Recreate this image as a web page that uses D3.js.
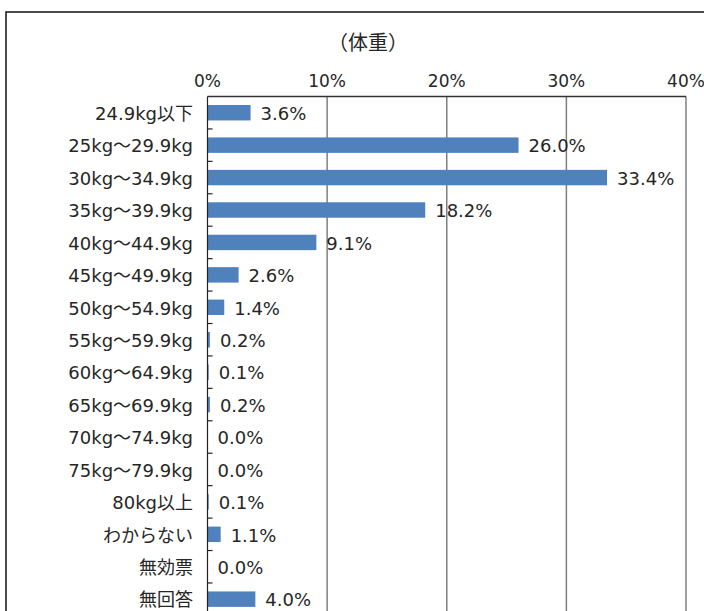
<!DOCTYPE html>
<html>
<head>
<meta charset="utf-8">
<script src="https://cdn.jsdelivr.net/npm/d3@7"></script>
<style>
body { margin: 0; background: #fff; }
svg { display: block; }
text { font-family: "DejaVu Sans", "Noto Sans CJK JP", sans-serif; fill: #262626; }
</style>
</head>
<body>
<div id="chart"></div>
<script>
var categories = ["24.9kg以下", "25kg～29.9kg", "30kg～34.9kg", "35kg～39.9kg", "40kg～44.9kg",
	"45kg～49.9kg", "50kg～54.9kg", "55kg～59.9kg", "60kg～64.9kg", "65kg～69.9kg",
	"70kg～74.9kg", "75kg～79.9kg", "80kg以上", "わからない", "無効票", "無回答"];
var values = [3.6, 26.0, 33.4, 18.2, 9.1, 2.6, 1.4, 0.2, 0.1, 0.2, 0.0, 0.0, 0.1, 1.1, 0.0, 4.0];
var tickValues = [0, 10, 20, 30, 40];
var title = "（体重）";

var width = 704, height = 611;
var plotLeft = 207.5, plotRight = 686, plotTop = 96.5, rowH = 32.43;

var svg = d3.select("#chart").append("svg")
	.attr("width", width)
	.attr("height", height);

// outer chart frame (runs off the picture at right and bottom)
svg.append("rect")
	.attr("x", 6).attr("y", 12)
	.attr("width", 760).attr("height", 700)
	.attr("fill", "none")
	.attr("stroke", "#111")
	.attr("stroke-width", 1.5);

var x = d3.scaleLinear().domain([0, 40]).range([plotLeft, plotRight]);
var y = d3.scaleBand().domain(categories)
	.range([plotTop, plotTop + rowH * categories.length])
	.paddingInner(0.524).paddingOuter(0.262);
var band = d3.scaleBand().domain(categories)
	.range([plotTop, plotTop + rowH * categories.length]);

svg.append("text")
	.attr("x", 368).attr("y", 50)
	.attr("text-anchor", "middle")
	.style("font-family", "'Noto Sans CJK JP', sans-serif")
	.style("font-size", "20px")
	.text(title);

// vertical gridlines
svg.append("g").selectAll("line")
	.data(tickValues.slice(1))
	.enter().append("line")
	.attr("x1", function(d) { return x(d); })
	.attr("x2", function(d) { return x(d); })
	.attr("y1", plotTop).attr("y2", height + 10)
	.attr("stroke", "#7f7f7f")
	.attr("stroke-width", 1.5);

// top border of plot area
svg.append("line")
	.attr("x1", plotLeft).attr("x2", plotRight)
	.attr("y1", plotTop).attr("y2", plotTop)
	.attr("stroke", "#333").attr("stroke-width", 1.5);

// top axis labels
svg.append("g").selectAll("text")
	.data(tickValues)
	.enter().append("text")
	.attr("x", function(d) { return x(d); })
	.attr("y", 87)
	.attr("text-anchor", "middle")
	.style("font-size", "17px")
	.text(function(d) { return d + "%"; });

// bars
svg.append("g").selectAll("rect")
	.data(values)
	.enter().append("rect")
	.attr("x", x(0))
	.attr("y", function(d, i) { return y(categories[i]); })
	.attr("width", function(d) { return x(d) - x(0); })
	.attr("height", y.bandwidth())
	.attr("fill", "#4f81bd");

// left axis with inside ticks at band edges
svg.append("line")
	.attr("x1", plotLeft).attr("x2", plotLeft)
	.attr("y1", plotTop).attr("y2", height + 10)
	.attr("stroke", "#222").attr("stroke-width", 1.2);
svg.append("g").selectAll("line")
	.data(categories.slice(1))
	.enter().append("line")
	.attr("x1", plotLeft).attr("x2", plotLeft + 5)
	.attr("y1", function(d) { return band(d); })
	.attr("y2", function(d) { return band(d); })
	.attr("stroke", "#222").attr("stroke-width", 1.2);

// category labels
svg.append("g").selectAll("text")
	.data(categories)
	.enter().append("text")
	.attr("x", 193)
	.attr("y", function(d) { return band(d) + band.bandwidth() / 2 + 7.3; })
	.attr("text-anchor", "end")
	.style("font-size", "18px")
	.text(function(d) { return d; });

// value labels
svg.append("g").selectAll("text")
	.data(values)
	.enter().append("text")
	.attr("x", function(d) { return x(d) + 10; })
	.attr("y", function(d, i) { return band(categories[i]) + band.bandwidth() / 2 + 7.3; })
	.style("font-size", "18px")
	.text(function(d) { return d.toFixed(1) + "%"; });
</script>
</body>
</html>
